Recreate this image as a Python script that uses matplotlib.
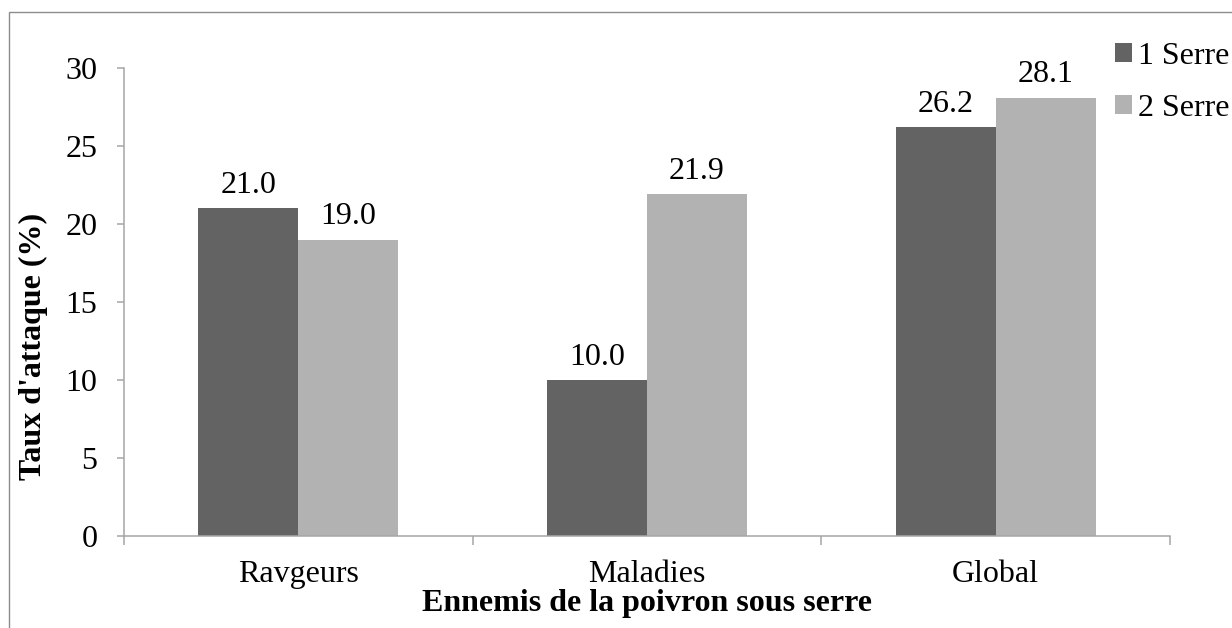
import matplotlib
matplotlib.use("Agg")
import matplotlib.pyplot as plt
from matplotlib.patches import Rectangle
import numpy as np

# data
categories = ["Ravgeurs", "Maladies", "Global"]
serre1 = [21.0, 10.0, 26.2]
serre2 = [19.0, 21.9, 28.1]
series_names = ["1 Serre", "2 Serre"]
yticks = [0, 5, 10, 15, 20, 25, 30]

plt.rcParams['font.family'] = ['Liberation Serif', 'DejaVu Serif']
fs = 23

fig = plt.figure(figsize=(12.32, 6.28), dpi=100)
W, H = 1232, 628

# outer frame of the chart area (cut at right and bottom)
fig.patches.append(Rectangle((9 / W, -0.1), 1.2, 1 - 12 / H + 0.1,
                             transform=fig.transFigure, fill=False,
                             edgecolor='#8c8c8c', linewidth=1.0))

ax = fig.add_axes([124 / W, (H - 536) / H, (1170 - 124) / W, (536 - 68) / H])

x = np.arange(len(categories))
w = 0.2868
b1 = ax.bar(x - w / 2, serre1, w, color='#636363', label=series_names[0])
b2 = ax.bar(x + w / 2, serre2, w, color='#b2b2b2', label=series_names[1])

ax.bar_label(b1, fmt='%.1f', padding=6, fontsize=fs)
ax.bar_label(b2, fmt='%.1f', padding=6, fontsize=fs)

ax.set_xlim(-0.5, 2.5)
ax.set_ylim(0, 30)
ax.set_yticks(yticks)
ax.tick_params(axis='y', labelsize=fs, length=5, width=1.1, color='#a6a6a6', pad=14)

# boundaries ticks as major, category names as minor
ax.set_xticks([-0.5, 0.5, 1.5, 2.5])
ax.set_xticklabels([])
ax.set_xticks(x, minor=True)
ax.set_xticklabels(categories, minor=True)
ax.tick_params(axis='x', which='major', length=6.5, width=1.1, color='#a6a6a6')
ax.tick_params(axis='x', which='minor', length=0, labelsize=fs, pad=17)

for s in ['top', 'right']:
    ax.spines[s].set_visible(False)
for s in ['left', 'bottom']:
    ax.spines[s].set_color('#a6a6a6')
    ax.spines[s].set_linewidth(1.1)

ax.set_ylabel("Taux d'attaque (%)", fontsize=fs, fontweight='bold')
ax.yaxis.set_label_coords(-0.0727, 0.405)
ax.set_xlabel("Ennemis de la poivron sous serre", fontsize=fs, fontweight='bold')
ax.xaxis.set_label_coords(0.5, -0.114)
ax.xaxis.label.set_va('top')

fig.legend(loc='upper left', bbox_to_anchor=(1115 / W, 1 - 42 / H),
           frameon=False, fontsize=fs, handlelength=0.53, handleheight=0.53,
           handletextpad=0.2, labelspacing=0.72, borderaxespad=0, borderpad=0)

fig.savefig("out.png", dpi=100)
